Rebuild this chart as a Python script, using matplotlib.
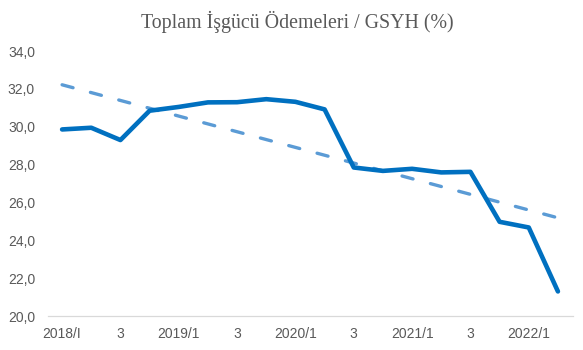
import matplotlib.pyplot as plt

# quarterly labor payments / GDP (%), 2018Q1 - 2022Q2
quarters = ['2018/I', '2', '3', '4', '2019/1', '2', '3', '4', '2020/1', '2', '3', '4',
            '2021/1', '2', '3', '4', '2022/1', '2']
values = [29.86, 29.95, 29.30, 30.85, 31.05, 31.29, 31.30, 31.46, 31.32, 30.92,
          27.85, 27.67, 27.78, 27.59, 27.62, 24.98, 24.68, 21.30]
# linear trend line, end values
trend_start = 32.22
trend_end = 25.19
yticks = [20, 22, 24, 26, 28, 30, 32, 34]

x = list(range(len(values)))

fig = plt.figure(figsize=(5.83, 3.5), dpi=100)
ax = fig.add_axes([0.0815, 0.097, 0.9005, 0.757])

ax.plot(x, values, color='#0070C0', lw=3.3, solid_joinstyle='round', solid_capstyle='round', zorder=3)
ax.plot([x[0], x[-1]], [trend_start, trend_end], color='#5B9BD5', lw=2.4,
        linestyle=(0, (3.4, 5.4)), dash_capstyle='round', zorder=2)

ax.set_xlim(-0.5, len(values) - 0.5)
ax.set_ylim(20, 34)
ax.set_yticks(yticks)
ax.set_yticklabels([f'{v:.1f}'.replace('.', ',') for v in yticks])
ax.set_xticks(x[::2])
ax.set_xticklabels(quarters[::2])

for s in ['top', 'right', 'left']:
    ax.spines[s].set_visible(False)
ax.spines['bottom'].set_color('#D9D9D9')
ax.spines['bottom'].set_linewidth(0.9)
ax.tick_params(length=0, labelsize=10, labelcolor='#595959')
ax.tick_params(axis='y', pad=9)
ax.tick_params(axis='x', pad=8)
for lab in ax.get_xticklabels() + ax.get_yticklabels():
    lab.set_fontfamily('Liberation Sans')

fig.text(0.51, 0.937, 'Toplam İşgücü Ödemeleri / GSYH (%)', ha='center', va='center',
         fontsize=14.3, color='#595959', family='Liberation Serif')

fig.savefig('out.png')
